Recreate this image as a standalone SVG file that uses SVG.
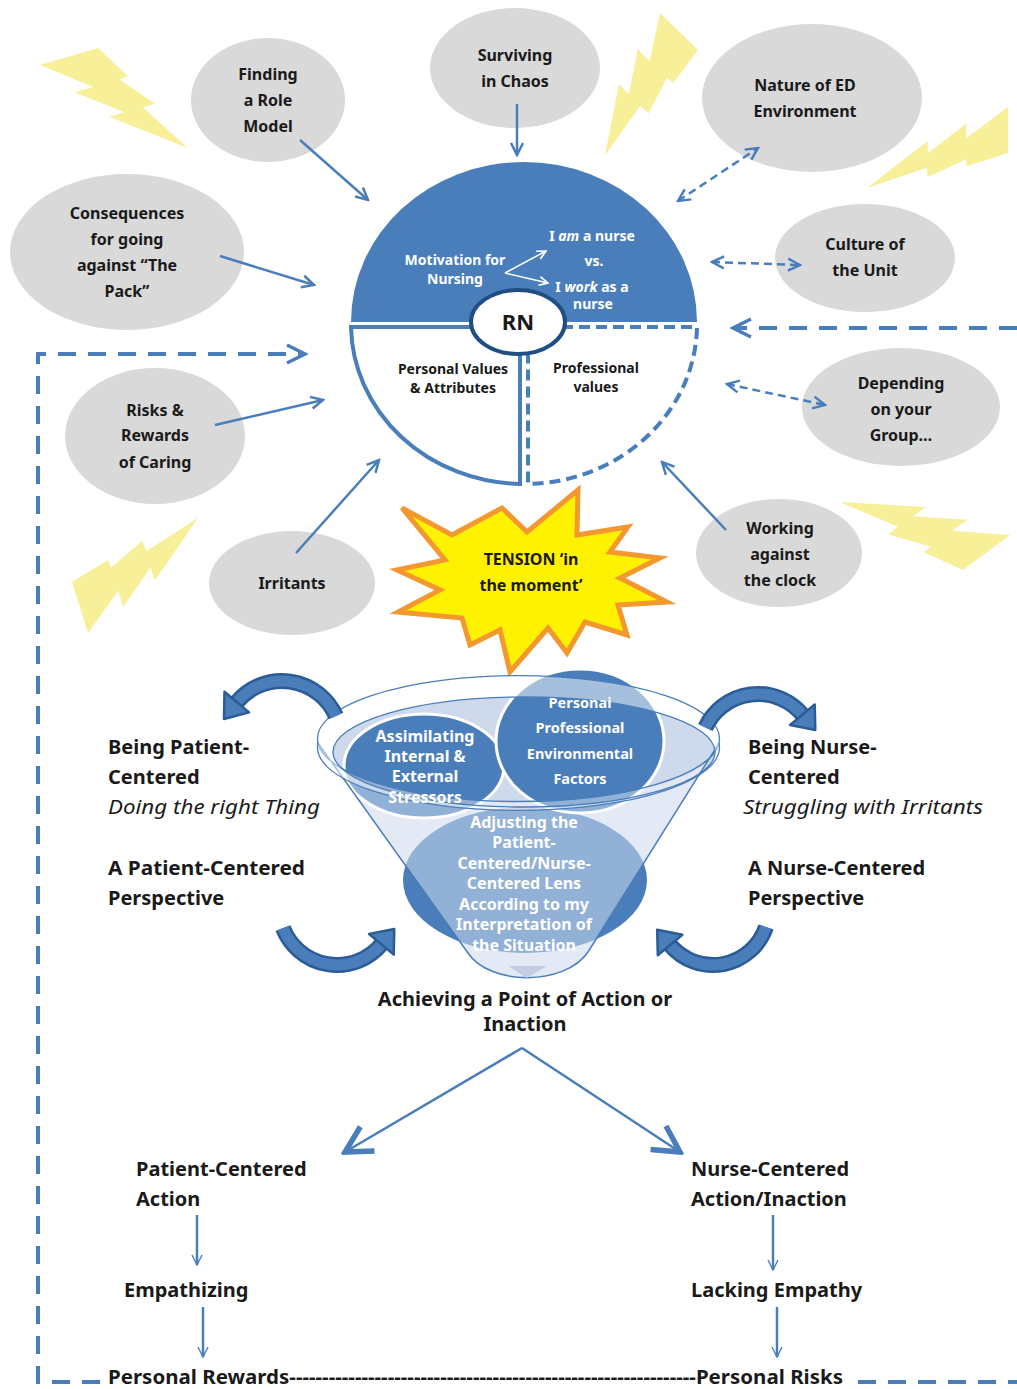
<svg xmlns="http://www.w3.org/2000/svg" xmlns:xlink="http://www.w3.org/1999/xlink" width="1017" height="1389" viewBox="0 0 1017 1389">
<style>
  .t{font-family:'Noto Sans','Open Sans','DejaVu Sans',sans-serif;font-weight:700;fill:#1a1a1a}
  .c{text-anchor:middle}
  .node{fill:#d9d9d9}
  .lb{font-size:16px}
  .w{fill:#ffffff}
  .big{font-size:20px}
  .it{font-style:italic;font-weight:400}
  .conn{fill:none;stroke:#4a7ebb;stroke-width:2.5}
  .dsh{stroke-dasharray:8 5}
  .loop{fill:none;stroke:#4a7ebb;stroke-width:4;stroke-dasharray:18 12}
  .bolt{fill:#f8ef99}
  .carc{fill:none;stroke:#4a7ebb;stroke-width:11}
  .carcE{fill:none;stroke:#2b5c95;stroke-width:16}
  .chead{fill:#4a7ebb;stroke:#2b5c95;stroke-width:2.5;stroke-linejoin:round}
</style>
<defs>
  <path id="bolt" d="M39.2,0 L59.5,28.1 L53.8,31.5 L77.6,55.4 L69.6,59.6 L100,100 L46.7,69.4 L57,64.6 L23.3,45.1 L36.1,39.6 L0,18 Z"/>
  <marker id="ah" viewBox="0 0 16 16" refX="14" refY="8" markerWidth="16" markerHeight="16" markerUnits="userSpaceOnUse" orient="auto-start-reverse">
    <path d="M2,2 L14,8 L2,14" fill="none" stroke="#4a7ebb" stroke-width="2.5"/>
  </marker>
  <marker id="ahBig" viewBox="0 0 24 24" refX="21" refY="12" markerWidth="24" markerHeight="24" markerUnits="userSpaceOnUse" orient="auto">
    <path d="M3,3 L21,12 L3,21" fill="none" stroke="#4a7ebb" stroke-width="3.5"/>
  </marker>
  <marker id="ahV" viewBox="0 0 36 36" refX="32" refY="18" markerWidth="36" markerHeight="36" markerUnits="userSpaceOnUse" orient="auto">
    <path d="M6,4 L32,18 L6,32" fill="none" stroke="#4a7ebb" stroke-width="5.5"/>
  </marker>
  <marker id="ahThin" viewBox="0 0 12 12" refX="11" refY="6" markerWidth="12" markerHeight="12" markerUnits="userSpaceOnUse" orient="auto">
    <path d="M1,1 L11,6 L1,11" fill="none" stroke="#4a7ebb" stroke-width="1.4"/>
  </marker>
  <marker id="ahW" viewBox="0 0 10 10" refX="9" refY="5" markerWidth="11" markerHeight="11" markerUnits="userSpaceOnUse" orient="auto">
    <path d="M1,1 L9,5 L1,9" fill="none" stroke="#ffffff" stroke-width="1.5"/>
  </marker>
</defs>

<rect width="1017" height="1389" fill="#ffffff"/>

<!-- lightning bolts -->
<g id="bolts">
  <use xlink:href="#bolt" class="bolt" transform="matrix(1.48,0.02,0,0.988,40,47.2)"/>
  <use xlink:href="#bolt" class="bolt" transform="matrix(0.424,1.115,-1.187,0.372,681.4,6.3)"/>
  <use xlink:href="#bolt" class="bolt" transform="matrix(-0.506,1.043,-1.102,-0.284,1027.8,112.1)"/>
  <use xlink:href="#bolt" class="bolt" transform="matrix(0.133,-1.247,1.179,0.118,66.8,630.9)"/>
  <use xlink:href="#bolt" class="bolt" transform="matrix(-1.379,0.454,-0.392,-0.956,1017.05,552.2)"/>
</g>

<!-- outer influence nodes -->
<g id="node-role-model">
  <ellipse class="node" cx="268" cy="100" rx="77" ry="62"/>
  <text class="t c lb" x="268" y="80">Finding</text>
  <text class="t c lb" x="268" y="106">a Role</text>
  <text class="t c lb" x="268" y="132">Model</text>
</g>
<g id="node-chaos">
  <ellipse class="node" cx="515" cy="68" rx="85" ry="60"/>
  <text class="t c lb" x="515" y="61">Surviving</text>
  <text class="t c lb" x="515" y="87">in Chaos</text>
</g>
<g id="node-ed">
  <ellipse class="node" cx="812" cy="98" rx="110" ry="74"/>
  <text class="t c lb" x="805" y="91">Nature of ED</text>
  <text class="t c lb" x="805" y="117">Environment</text>
</g>
<g id="node-pack">
  <ellipse class="node" cx="127" cy="252" rx="117" ry="78"/>
  <text class="t c lb" x="127" y="219">Consequences</text>
  <text class="t c lb" x="127" y="245">for going</text>
  <text class="t c lb" x="127" y="271">against “The</text>
  <text class="t c lb" x="127" y="297">Pack”</text>
</g>
<g id="node-culture">
  <ellipse class="node" cx="865" cy="258" rx="90" ry="54"/>
  <text class="t c lb" x="865" y="250">Culture of</text>
  <text class="t c lb" x="865" y="276">the Unit</text>
</g>
<g id="node-risks">
  <ellipse class="node" cx="155" cy="436" rx="90" ry="68"/>
  <text class="t c lb" x="155" y="416">Risks &amp;</text>
  <text class="t c lb" x="155" y="441">Rewards</text>
  <text class="t c lb" x="155" y="468">of Caring</text>
</g>
<g id="node-group">
  <ellipse class="node" cx="901" cy="407" rx="99" ry="59"/>
  <text class="t c lb" x="901" y="389">Depending</text>
  <text class="t c lb" x="901" y="415">on your</text>
  <text class="t c lb" x="901" y="441">Group…</text>
</g>
<g id="node-irritants">
  <ellipse class="node" cx="292" cy="583" rx="83" ry="52"/>
  <text class="t c lb" x="292" y="589">Irritants</text>
</g>
<g id="node-clock">
  <ellipse class="node" cx="779" cy="553" rx="83" ry="54"/>
  <text class="t c lb" x="780" y="534">Working</text>
  <text class="t c lb" x="780" y="560">against</text>
  <text class="t c lb" x="780" y="586">the clock</text>
</g>

<!-- central RN circle -->
<g id="node-rn">
  <path d="M351,322 A173 160 0 0 1 697,322 Z" fill="#4a7ebb"/>
  <path d="M351,327 L520,327 L520,484 A173 160 0 0 1 351,327 Z" fill="#ffffff" stroke="#4a7ebb" stroke-width="4"/>
  <path d="M528,327 L697,327 A173 160 0 0 1 528,484 Z" fill="#ffffff" stroke="#4a7ebb" stroke-width="4" stroke-dasharray="11 6"/>
  <ellipse cx="518" cy="322" rx="47" ry="32" fill="#ffffff" stroke="#1f4e82" stroke-width="4"/>
  <text class="t c" x="518" y="330" font-size="22">RN</text>
  <text class="t c w" x="455" y="265" font-size="14">Motivation for</text>
  <text class="t c w" x="455" y="284" font-size="14">Nursing</text>
  <path d="M505,273 L546,251" fill="none" stroke="#fff" stroke-width="1.5" marker-end="url(#ahW)"/>
  <path d="M505,273 L548,283" fill="none" stroke="#fff" stroke-width="1.5" marker-end="url(#ahW)"/>
  <text class="t c w" x="592" y="241" font-size="14">I <tspan font-style="italic">am</tspan> a nurse</text>
  <text class="t c w" x="594" y="266" font-size="14">vs.</text>
  <text class="t c w" x="592" y="292" font-size="14">I <tspan font-style="italic">work</tspan> as a</text>
  <text class="t c w" x="593" y="309" font-size="14">nurse</text>
  <text class="t c" x="453" y="374" font-size="14">Personal Values</text>
  <text class="t c" x="453" y="393" font-size="14">&amp; Attributes</text>
  <text class="t c" x="596" y="373" font-size="14">Professional</text>
  <text class="t c" x="596" y="392" font-size="14">values</text>
</g>

<!-- tension burst -->
<g id="node-tension">
  <polygon points="402,508 452,535 502,508 527,532 578,490 577,535 628,527 610,552 660,558 620,578 667,602 618,605 627,635 585,622 567,653 548,628 510,672 500,630 470,645 462,618 398,612 440,590 397,570 445,560" fill="#fff200" stroke="#f3972f" stroke-width="5" stroke-linejoin="miter"/>
  <text class="t c" x="531" y="565" font-size="16" font-weight="600">TENSION ‘in</text>
  <text class="t c" x="531" y="591" font-size="16" font-weight="600">the moment’</text>
</g>

<!-- funnel -->
<g id="node-funnel">
  <path d="M318,743 L468,953 C490,986 565,986 588,952 L719,743 A201 63 0 0 1 318,743 Z" fill="#d3dcee"/>
  <ellipse cx="524" cy="752" rx="191" ry="55" fill="#cfd9ec"/>
  <ellipse cx="525" cy="880" rx="122" ry="73" fill="#4a7ebb"/>
  <ellipse cx="424" cy="766" rx="80" ry="52" fill="#4a7ebb" stroke="#ffffff" stroke-width="3"/>
  <ellipse cx="580" cy="741" rx="84" ry="72" fill="#4a7ebb" stroke="#ffffff" stroke-width="3"/>
  <path d="M318,743 L468,953 C490,986 565,986 588,952 L719,743 A201 63 0 0 1 318,743 Z" fill="#ffffff" fill-opacity="0.4" stroke="#4a7ebb" stroke-width="1.5"/>
  <path d="M318,743 A201 63 0 1 1 719,743 A201 63 0 1 1 318,743 Z M333,752 A191 55 0 1 0 715,752 A191 55 0 1 0 333,752 Z" fill="#ffffff" fill-opacity="0.5" fill-rule="evenodd" stroke="#4a7ebb" stroke-width="1.3"/>
  <polygon points="508,966 547,966 527,978" fill="#c3cee4"/>
  <text class="t c w" x="425" y="742" font-size="16">Assimilating</text>
  <text class="t c w" x="425" y="762" font-size="16">Internal &amp;</text>
  <text class="t c w" x="425" y="782" font-size="16">External</text>
  <text class="t c w" x="425" y="803" font-size="16">Stressors</text>
  <text class="t c w" x="580" y="708" font-size="14.5">Personai</text>
  <text class="t c w" x="580" y="733" font-size="14.5">Professional</text>
  <text class="t c w" x="580" y="759" font-size="14.5">Environmental</text>
  <text class="t c w" x="580" y="784" font-size="14.5">Factors</text>
  <text class="t c w" x="524" y="828" font-size="16">Adjusting the</text>
  <text class="t c w" x="524" y="848" font-size="16">Patient-</text>
  <text class="t c w" x="524" y="869" font-size="16">Centered/Nurse-</text>
  <text class="t c w" x="524" y="889" font-size="16">Centered Lens</text>
  <text class="t c w" x="524" y="910" font-size="16">According to my</text>
  <text class="t c w" x="524" y="930" font-size="16">Interpretation of</text>
  <text class="t c w" x="524" y="951" font-size="16">the Situation</text>
</g>

<!-- curved cycle arrows around the funnel -->
<g id="cycle-arrows">
  <path class="carcE" d="M335.9,716 A59 59 0 0 0 236.8,702.1"/>
  <path class="carc" d="M335.9,716 A59 59 0 0 0 236.8,702.1"/>
  <polygon class="chead" points="224.5,691.8 249.1,712.4 224,719"/>
  <path class="carcE" d="M705.4,727.5 A58 58 0 0 1 802.4,714.7"/>
  <path class="carc" d="M705.4,727.5 A58 58 0 0 1 802.4,714.7"/>
  <polygon class="chead" points="814.7,704.4 790.1,725 815.3,730"/>
  <path class="carcE" d="M283,928.1 A58 58 0 0 0 381.4,944.3"/>
  <path class="carc" d="M283,928.1 A58 58 0 0 0 381.4,944.3"/>
  <polygon class="chead" points="393.7,954.6 369.1,934 394.3,929"/>
  <path class="carcE" d="M766,927 A56 56 0 0 1 670.1,945"/>
  <path class="carc" d="M766,927 A56 56 0 0 1 670.1,945"/>
  <polygon class="chead" points="657.8,955.3 682.4,934.7 657.2,929.7"/>
</g>

<!-- perspective labels -->
<g id="node-patient-side">
  <text class="t big" x="108" y="754">Being Patient-</text>
  <text class="t big" x="108" y="784">Centered</text>
  <text class="t big it" x="108" y="814" textLength="212" lengthAdjust="spacingAndGlyphs">Doing the right Thing</text>
  <text class="t big" x="108" y="875" textLength="197" lengthAdjust="spacingAndGlyphs">A Patient-Centered</text>
  <text class="t big" x="108" y="905">Perspective</text>
</g>
<g id="node-nurse-side">
  <text class="t big" x="748" y="754">Being Nurse-</text>
  <text class="t big" x="748" y="784">Centered</text>
  <text class="t big it" x="743" y="814" textLength="240" lengthAdjust="spacingAndGlyphs">Struggling with Irritants</text>
  <text class="t big" x="748" y="875">A Nurse-Centered</text>
  <text class="t big" x="748" y="905">Perspective</text>
</g>
<g id="node-action-point">
  <text class="t big c" x="525" y="1006">Achieving a Point of Action or</text>
  <text class="t big c" x="525" y="1031">Inaction</text>
</g>
<g id="node-pc-action">
  <text class="t big" x="136" y="1176">Patient-Centered</text>
  <text class="t big" x="136" y="1206">Action</text>
</g>
<g id="node-nc-action">
  <text class="t big" x="691" y="1176">Nurse-Centered</text>
  <text class="t big" x="691" y="1206">Action/Inaction</text>
</g>
<g id="node-empathizing">
  <text class="t big" x="124" y="1297">Empathizing</text>
</g>
<g id="node-lacking">
  <text class="t big" x="691" y="1297">Lacking Empathy</text>
</g>
<g id="node-outcomes">
  <text class="t" font-size="19" x="108" y="1384" textLength="735" lengthAdjust="spacingAndGlyphs">Personal Rewards--------------------------------------------------------------Personal Risks</text>
</g>

<!-- connectors -->
<g id="connectors">
  <line class="conn" x1="300" y1="140" x2="368" y2="200" marker-end="url(#ah)"/>
  <line class="conn" x1="517" y1="104" x2="517" y2="155" marker-end="url(#ah)"/>
  <line class="conn" x1="220" y1="256" x2="314" y2="285" marker-end="url(#ah)"/>
  <line class="conn" x1="215" y1="425" x2="323" y2="400" marker-end="url(#ah)"/>
  <line class="conn" x1="296" y1="553" x2="379" y2="460" marker-end="url(#ah)"/>
  <line class="conn" x1="726" y1="530" x2="662" y2="462" marker-end="url(#ah)"/>
  <line class="conn dsh" x1="678" y1="201" x2="758" y2="148" marker-start="url(#ah)" marker-end="url(#ah)"/>
  <line class="conn dsh" x1="712" y1="262" x2="800" y2="265" marker-start="url(#ah)" marker-end="url(#ah)"/>
  <line class="conn dsh" x1="727" y1="384" x2="825" y2="405" marker-start="url(#ah)" marker-end="url(#ah)"/>
  <path class="loop" d="M100,1382 L38,1382 L38,354 L305,354" marker-end="url(#ahBig)"/>
  <path class="loop" d="M858,1382 L1017,1382"/>
  <path class="loop" d="M1017,328 L733,328" marker-end="url(#ahBig)"/>
  <line class="conn" stroke-width="5" x1="522" y1="1048" x2="345" y2="1152" marker-end="url(#ahV)"/>
  <line class="conn" stroke-width="5" x1="522" y1="1048" x2="680" y2="1152" marker-end="url(#ahV)"/>
  <line class="conn" stroke-width="1.4" x1="197" y1="1215" x2="197" y2="1265" marker-end="url(#ahThin)"/>
  <line class="conn" stroke-width="1.4" x1="203" y1="1307" x2="203" y2="1357" marker-end="url(#ahThin)"/>
  <line class="conn" stroke-width="1.4" x1="773" y1="1215" x2="773" y2="1270" marker-end="url(#ahThin)"/>
  <line class="conn" stroke-width="1.4" x1="777" y1="1307" x2="777" y2="1357" marker-end="url(#ahThin)"/>
</g>
</svg>
